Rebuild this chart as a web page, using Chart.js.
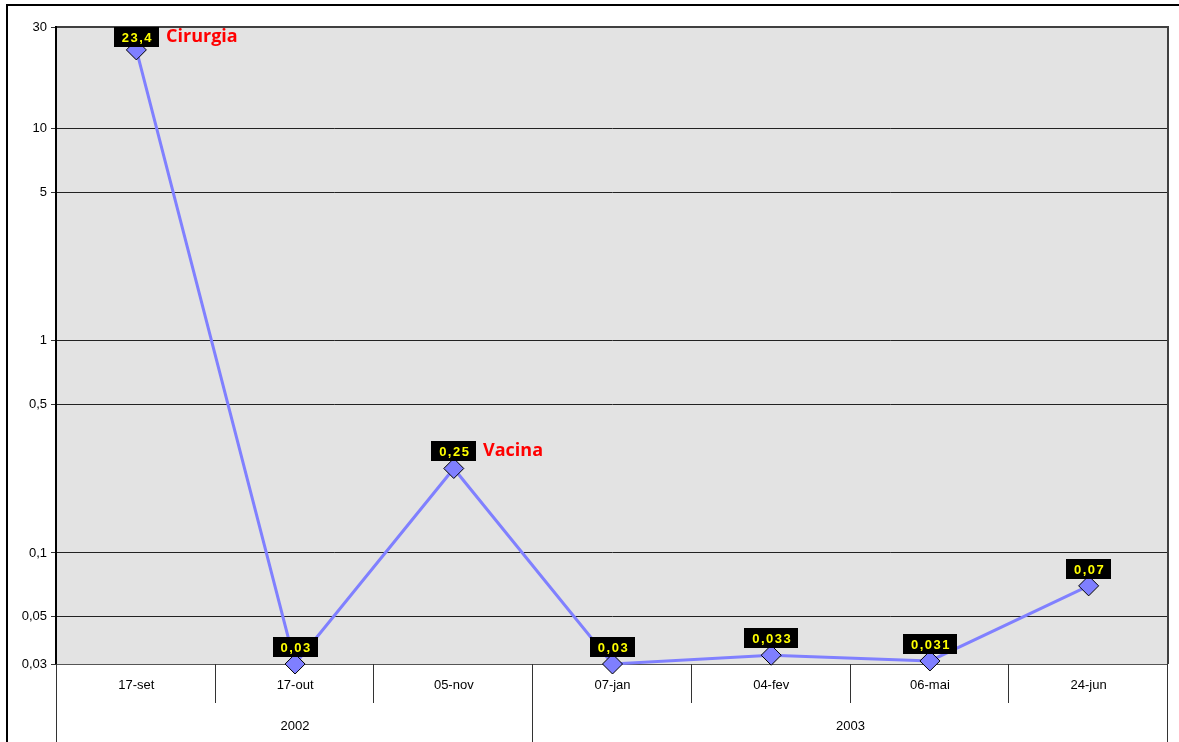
<!DOCTYPE html>
<html>
<head>
<meta charset="utf-8">
<script src="https://cdn.jsdelivr.net/npm/chart.js@4"></script>
<style>
  body { margin: 0; background: #fff; }
  canvas { display: block; }
</style>
</head>
<body>
<canvas id="chart" width="1179" height="742"></canvas>
<script>
const dates = ['17-set', '17-out', '05-nov', '07-jan', '04-fev', '06-mai', '24-jun'];
const values = [23.4, 0.03, 0.25, 0.03, 0.033, 0.031, 0.07];
const notes = ['Cirurgia', '', 'Vacina', '', '', '', ''];
const years = ['2002', '2003'];
const yearCounts = [3, 4];
const yTicks = [0.03, 0.05, 0.1, 0.5, 1, 5, 10, 30];

const fmt = v => String(v).replace('.', ',');
const axisFont = '"Liberation Sans", Arial, sans-serif';

// gray plot background + outer frame
const backdrop = {
  id: 'backdrop',
  beforeDraw(chart) {
    const { ctx, chartArea: a } = chart;
    ctx.save();
    ctx.fillStyle = '#e3e3e3';
    ctx.fillRect(a.left, a.top, a.right - a.left, a.bottom - a.top);
    ctx.strokeStyle = '#000';
    ctx.lineWidth = 2;
    ctx.strokeRect(7, 5, 1200, 800);
    ctx.restore();
  },
  beforeDatasetsDraw(chart) {
    const { ctx, chartArea: a, scales } = chart;
    const x = scales.x;
    const half = (x.getPixelForValue(1) - x.getPixelForValue(0)) / 2;
    ctx.save();
    // plot frame
    ctx.strokeStyle = '#404040';
    ctx.lineWidth = 2;
    ctx.beginPath();
    ctx.moveTo(a.left, a.top);
    ctx.lineTo(a.right, a.top);
    ctx.lineTo(a.right, a.bottom);
    ctx.stroke();
    ctx.strokeStyle = '#555';
    ctx.lineWidth = 1;
    ctx.beginPath();
    ctx.moveTo(a.left, a.bottom + 0.5);
    ctx.lineTo(a.right, a.bottom + 0.5);
    ctx.stroke();
    ctx.strokeStyle = '#000';
    ctx.lineWidth = 2;
    ctx.beginPath();
    ctx.moveTo(a.left - 1, a.top - 1);
    ctx.lineTo(a.left - 1, a.bottom);
    ctx.stroke();

    // category separators
    ctx.strokeStyle = '#333';
    ctx.lineWidth = 1;
    let start = 0;
    const yearEdges = [0];
    yearCounts.forEach(c => { start += c; yearEdges.push(start); });
    for (let i = 0; i <= dates.length; i++) {
      const px = Math.round(x.getPixelForValue(0) - half + i * 2 * half) - 0.5;
      const full = yearEdges.includes(i);
      ctx.beginPath();
      ctx.moveTo(px, a.bottom);
      ctx.lineTo(px, full ? 742 : a.bottom + 39);
      ctx.stroke();
    }
    // year labels
    ctx.fillStyle = '#000';
    ctx.font = '13px ' + axisFont;
    ctx.textAlign = 'center';
    ctx.textBaseline = 'middle';
    years.forEach((yr, k) => {
      const l = x.getPixelForValue(yearEdges[k]) - half;
      const r = x.getPixelForValue(yearEdges[k + 1] - 1) + half;
      ctx.fillText(yr, (l + r) / 2, a.bottom + 62);
    });
    ctx.restore();
  }
};

// black boxes with yellow values, red notes
const valueLabels = {
  id: 'valueLabels',
  afterDatasetsDraw(chart) {
    const { ctx, chartArea: a } = chart;
    const pts = chart.getDatasetMeta(0).data;
    ctx.save();
    pts.forEach((p, i) => {
      const txt = fmt(values[i]);
      ctx.font = 'bold 13px ' + axisFont;
      ctx.letterSpacing = '1.5px';
      const w = Math.round(ctx.measureText(txt).width + 14);
      const h = 20;
      let top = Math.round(p.y - 7 - h);
      if (top < a.top) top = a.top;
      const left = Math.round(p.x - w / 2);
      ctx.fillStyle = '#000';
      ctx.fillRect(left, top, w, h);
      ctx.fillStyle = '#ffff00';
      ctx.textAlign = 'center';
      ctx.textBaseline = 'middle';
      ctx.fillText(txt, p.x + 1, top + h / 2 + 1);
      if (notes[i]) {
        ctx.letterSpacing = '0px';
        ctx.font = 'bold 18px "Open Sans", sans-serif';
        ctx.fillStyle = '#ff0000';
        ctx.textAlign = 'left';
        ctx.fillText(notes[i], left + w + 7, top + h / 2);
      }
    });
    ctx.restore();
  }
};

new Chart(document.getElementById('chart'), {
  type: 'line',
  data: {
    labels: dates,
    datasets: [{
      data: values,
      borderColor: '#8080ff',
      borderWidth: 3,
      backgroundColor: '#7f7fff',
      pointStyle: 'rectRot',
      pointRadius: 10,
      pointBorderColor: '#000',
      pointBorderWidth: 1,
      tension: 0,
      clip: false
    }]
  },
  options: {
    responsive: false,
    animation: false,
    layout: { padding: { left: 0, top: 27, right: 10, bottom: 0 } },
    plugins: { legend: { display: false }, tooltip: { enabled: false } },
    scales: {
      x: {
        offset: true,
        grid: { display: false, drawTicks: false },
        border: { display: false },
        ticks: {
          padding: 14,
          color: '#000',
          font: { family: axisFont, size: 13 }
        },
        afterFit(s) { s.height = 78; }
      },
      y: {
        type: 'logarithmic',
        min: 0.03,
        max: 30,
        afterBuildTicks(s) { s.ticks = yTicks.map(v => ({ value: v })); },
        grid: { color: '#222', lineWidth: 1, tickLength: 6, tickColor: '#333' },
        border: { display: false },
        ticks: {
          padding: 4,
          color: '#000',
          autoSkip: false,
          font: { family: axisFont, size: 13 },
          callback: v => fmt(v)
        },
        afterFit(s) { s.width = 57; }
      }
    }
  },
  plugins: [backdrop, valueLabels]
});
</script>
</body>
</html>
